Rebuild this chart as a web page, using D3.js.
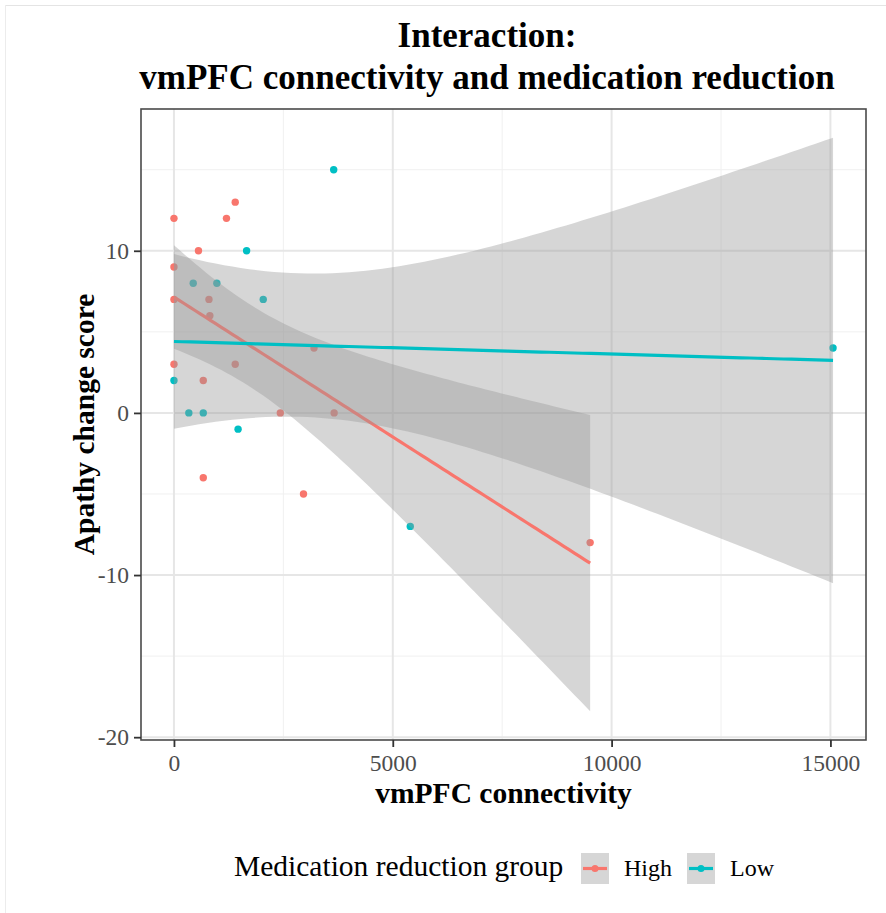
<!DOCTYPE html>
<html>
<head>
<meta charset="utf-8">
<script src="https://cdn.jsdelivr.net/npm/d3@7"></script>
<style>
html,body{margin:0;padding:0;background:#fff;}
svg{display:block;}
</style>
</head>
<body>
<svg id="chart" width="886" height="913"></svg>
<script>
// ---------------- data ----------------
const groups = ["High", "Low"];
const groupColors = ["#F8766D", "#00BFC4"];
const highX = [0, 0, 0, 0, 560, 670, 670, 800, 820, 1200, 1400, 1400, 2430, 2960, 3200, 3660, 9510];
const highY = [12, 9, 7, 3, 10, 2, -4, 7, 6, 12, 13, 3, 0, -5, 4, 0, -8];
const lowX = [0, 340, 440, 670, 980, 1465, 1660, 2040, 3650, 5400, 15060];
const lowY = [2, 0, 8, 0, 8, -1, 10, 7, 15, -7, 4];
const xTicks = [0, 5000, 10000, 15000];
const xMinor = [2500, 7500, 12500];
const yTicks = [-20, -10, 0, 10];
const yMinor = [-15, -5, 5, 15];
const titleLines = ["Interaction:", "vmPFC connectivity and medication reduction"];
const xTitle = "vmPFC connectivity";
const yTitle = "Apathy change score";
const legendTitle = "Medication reduction group";

// ---------------- stats (lm + 95% CI like geom_smooth) ----------------
function lgamma(z){
  const g=7, c=[0.99999999999980993,676.5203681218851,-1259.1392167224028,771.32342877765313,
    -176.61503916999185,12.507343278686905,-0.13857109526572012,9.9843695780195716e-6,1.5050632350427e-7];
  if(z<0.5) return Math.log(Math.PI/Math.sin(Math.PI*z))-lgamma(1-z);
  z-=1; let x=c[0]; for(let i=1;i<g+2;i++) x+=c[i]/(z+i);
  const t=z+g+0.5;
  return 0.5*Math.log(2*Math.PI)+(z+0.5)*Math.log(t)-t+Math.log(x);
}
function tcdfHalf(t,nu){ // integral 0..t of t-density
  const k=Math.exp(lgamma((nu+1)/2)-lgamma(nu/2))/Math.sqrt(nu*Math.PI);
  const f=u=>k*Math.pow(1+u*u/nu,-(nu+1)/2);
  const n=400,h=t/n; let s=f(0)+f(t);
  for(let i=1;i<n;i++) s+=(i%2?4:2)*f(i*h);
  return s*h/3;
}
function tq975(nu){
  let lo=0,hi=20;
  for(let i=0;i<60;i++){const m=(lo+hi)/2; if(tcdfHalf(m,nu)<0.475) lo=m; else hi=m;}
  return (lo+hi)/2;
}
function smooth(xs,ys){
  const n=xs.length, mx=d3.mean(xs), my=d3.mean(ys);
  let sxx=0,sxy=0; for(let i=0;i<n;i++){sxx+=(xs[i]-mx)**2; sxy+=(xs[i]-mx)*(ys[i]-my);}
  const b=sxy/sxx, a=my-b*mx;
  let sse=0; for(let i=0;i<n;i++) sse+=(ys[i]-a-b*xs[i])**2;
  const s=Math.sqrt(sse/(n-2)), tq=tq975(n-2);
  const x0=d3.min(xs), x1=d3.max(xs), out=[];
  for(let i=0;i<80;i++){
    const x=x0+(x1-x0)*i/79, fit=a+b*x;
    const se=s*Math.sqrt(1/n+(x-mx)**2/sxx);
    out.push({x, y:fit, lo:fit-tq*se, hi:fit+tq*se});
  }
  return out;
}
const series = [
  {name:groups[0], color:groupColors[0], pts:highX.map((x,i)=>({x,y:highY[i]}))},
  {name:groups[1], color:groupColors[1], pts:lowX.map((x,i)=>({x,y:lowY[i]}))}
];
series[0].fit = smooth(highX, highY);
series[1].fit = smooth(lowX, lowY);

// ---------------- layout ----------------
const svg = d3.select("#chart");
const P = {l:141, r:866, t:109, b:740};
const allX = highX.concat(lowX);
const allY = highY.concat(lowY, ...series.map(s=>s.fit.map(d=>d.lo)), ...series.map(s=>s.fit.map(d=>d.hi)));
const xr = d3.extent(allX), yr = d3.extent(allY);
const ex = (xr[1]-xr[0])*0.05, ey = (yr[1]-yr[0])*0.05;
const x = d3.scaleLinear().domain([xr[0]-ex, xr[1]+ex]).range([P.l, P.r]);
const y = d3.scaleLinear().domain([yr[0]-ey, yr[1]+ey]).range([P.b, P.t]);

const serif = "'Liberation Serif','Times New Roman',Times,serif";

// faint page frame
svg.append("line").attr("x1",5).attr("x2",886).attr("y1",5.5).attr("y2",5.5).attr("stroke","#e4e4e4").attr("stroke-width",1);
svg.append("line").attr("x1",5.5).attr("x2",5.5).attr("y1",5).attr("y2",913).attr("stroke","#ececec").attr("stroke-width",1);

// panel background
svg.append("rect").attr("x",P.l).attr("y",P.t).attr("width",P.r-P.l).attr("height",P.b-P.t).attr("fill","#fff");

const grid = svg.append("g");
grid.selectAll(".xm").data(xMinor).join("line")
  .attr("x1",d=>x(d)).attr("x2",d=>x(d)).attr("y1",P.t).attr("y2",P.b)
  .attr("stroke","#f0f0f0").attr("stroke-width",1);
grid.selectAll(".ym").data(yMinor).join("line")
  .attr("y1",d=>y(d)).attr("y2",d=>y(d)).attr("x1",P.l).attr("x2",P.r)
  .attr("stroke","#f0f0f0").attr("stroke-width",1);
grid.selectAll(".xM").data(xTicks).join("line")
  .attr("x1",d=>x(d)).attr("x2",d=>x(d)).attr("y1",P.t).attr("y2",P.b)
  .attr("stroke","#e6e6e6").attr("stroke-width",2);
grid.selectAll(".yM").data(yTicks).join("line")
  .attr("y1",d=>y(d)).attr("y2",d=>y(d)).attr("x1",P.l).attr("x2",P.r)
  .attr("stroke","#e6e6e6").attr("stroke-width",2);

// points
const ptsG = svg.append("g");
series.forEach(s=>{
  ptsG.selectAll(null).data(s.pts).join("circle")
    .attr("cx",d=>x(d.x)).attr("cy",d=>y(d.y)).attr("r",3.7).attr("fill",s.color);
});

// smooths: ribbon + line per group
const area = d3.area().x(d=>x(d.x)).y0(d=>y(d.lo)).y1(d=>y(d.hi));
const line = d3.line().x(d=>x(d.x)).y(d=>y(d.y));
series.forEach(s=>{
  svg.append("path").datum(s.fit).attr("d",area).attr("fill","#999999").attr("fill-opacity",0.4);
  svg.append("path").datum(s.fit).attr("d",line).attr("fill","none").attr("stroke",s.color).attr("stroke-width",3.2);
});

// panel border
svg.append("rect").attr("x",P.l).attr("y",P.t).attr("width",P.r-P.l).attr("height",P.b-P.t)
  .attr("fill","none").attr("stroke","#4a4a4a").attr("stroke-width",1.6);

// axes
const fmt = d => String(d);
const xAxis = svg.append("g").attr("transform",`translate(0,${P.b})`)
  .call(d3.axisBottom(x).tickValues(xTicks).tickFormat(fmt).tickSize(7).tickPadding(7));
const yAxis = svg.append("g").attr("transform",`translate(${P.l},0)`)
  .call(d3.axisLeft(y).tickValues(yTicks).tickFormat(fmt).tickSize(7).tickPadding(5));
[xAxis,yAxis].forEach(a=>{
  a.select(".domain").remove();
  a.selectAll(".tick line").attr("stroke","#333").attr("stroke-width",1.8);
  a.selectAll(".tick text").attr("fill","#4d4d4d").attr("font-family",serif).attr("font-size",23.5);
});

// titles
svg.append("text").attr("x",487).attr("y",47).attr("text-anchor","middle")
  .attr("font-family",serif).attr("font-weight","bold").attr("font-size",35).text(titleLines[0]);
svg.append("text").attr("x",487).attr("y",89).attr("text-anchor","middle")
  .attr("font-family",serif).attr("font-weight","bold").attr("font-size",35).text(titleLines[1]);
svg.append("text").attr("x",(P.l+P.r)/2).attr("y",803).attr("text-anchor","middle")
  .attr("font-family",serif).attr("font-weight","bold").attr("font-size",29.5).text(xTitle);
svg.append("text").attr("transform",`translate(94,${(P.t+P.b)/2}) rotate(-90)`).attr("text-anchor","middle")
  .attr("font-family",serif).attr("font-weight","bold").attr("font-size",29.5).text(yTitle);

// legend
const lg = svg.append("g");
lg.append("text").attr("x",234).attr("y",876).attr("font-family",serif).attr("font-size",29.5).text(legendTitle);
const keyX = [581, 687], labX = [624, 730];
series.forEach((s,i)=>{
  lg.append("rect").attr("x",keyX[i]).attr("y",853).attr("width",28).attr("height",31).attr("fill","#d6d6d6");
  lg.append("line").attr("x1",keyX[i]+2).attr("x2",keyX[i]+26).attr("y1",868.5).attr("y2",868.5)
    .attr("stroke",s.color).attr("stroke-width",3.2);
  lg.append("circle").attr("cx",keyX[i]+14).attr("cy",868.5).attr("r",3.5).attr("fill",s.color);
  lg.append("text").attr("x",labX[i]).attr("y",876).attr("font-family",serif).attr("font-size",24).text(s.name);
});
</script>
</body>
</html>
